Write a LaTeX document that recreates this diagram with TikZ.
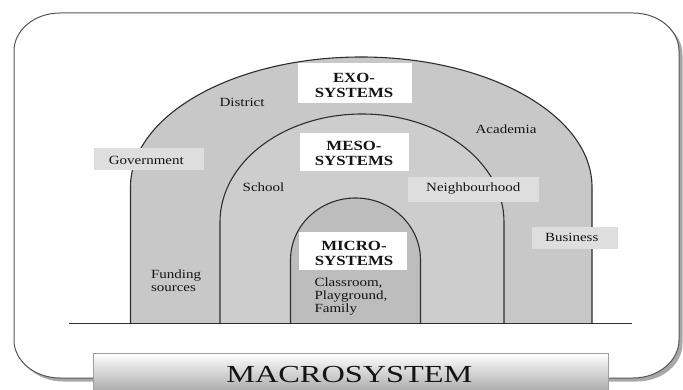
\documentclass[tikz,border=0pt]{standalone}
\usepackage{fontspec}
\setmainfont{Liberation Serif}[FakeStretch=1.2]
\newfontfamily\macrofont{Liberation Serif}[FakeStretch=1.32]
\definecolor{exofill}{HTML}{C8C8C8}
\definecolor{mesofill}{HTML}{CDCDCD}
\definecolor{microfill}{HTML}{BDBDBD}
\definecolor{tagfill}{HTML}{DEDEDE}
\definecolor{ink}{HTML}{141414}
\definecolor{linecol}{HTML}{2E2E2E}
\definecolor{rim}{HTML}{555555}
\definecolor{shadowgray}{HTML}{A8A8A8}
\begin{document}
\begin{tikzpicture}[x=1pt,y=1pt,
  every node/.style={inner sep=0pt, outer sep=0pt, text=ink},
  lbl/.style={font=\fontsize{12.5}{13}\selectfont, anchor=base},
  lbll/.style={lbl, anchor=base west},
  ttl/.style={font=\bfseries\fontsize{14}{15}\selectfont, anchor=base},
  titlebox/.style={rectangle, fill=white},
  tagbox/.style={rectangle, fill=tagfill},
  arch/.style={draw=linecol, line width=1.1pt},
  ground/.style={draw=linecol, line width=1pt},
  barbox/.style={rectangle, top color=white, bottom color=gray!72, draw=gray!75, line width=0.8pt},
]
\useasboundingbox (0,0) rectangle (683,389);

% outer frame with its drop shadow
\fill[shadowgray] (63.5,372.5) -- (636.5,372.5) arc[start angle=90,end angle=0,x radius=46,y radius=38]
  -- (682.5,45.5) arc[start angle=0,end angle=-90,x radius=46,y radius=38]
  -- (63.5,7.5) arc[start angle=270,end angle=180,x radius=46,y radius=38]
  -- (17.5,334.5) arc[start angle=180,end angle=90,x radius=46,y radius=38] -- cycle;
\filldraw[draw=rim, fill=white, line width=1pt] (60,376) -- (633,376) arc[start angle=90,end angle=0,x radius=46,y radius=38]
  -- (679,49) arc[start angle=0,end angle=-90,x radius=46,y radius=38]
  -- (60,11) arc[start angle=270,end angle=180,x radius=46,y radius=38]
  -- (14,338) arc[start angle=180,end angle=90,x radius=46,y radius=38] -- cycle;

% nested arches
\filldraw[arch, fill=exofill] (130.5,66) -- (130.5,202)
  arc[start angle=180,end angle=0,x radius=230.75,y radius=130] -- (592,66);
\filldraw[arch, fill=mesofill] (220,66) -- (220,167)
  arc[start angle=180,end angle=0,x radius=142,y radius=108] -- (504,66);
\filldraw[arch, fill=microfill] (290.5,66) -- (290.5,129)
  arc[start angle=180,end angle=0,x radius=65,y radius=62] -- (420.5,66);

% ground line
\coordinate (gl) at (69,66);
\coordinate (gr) at (632,66);
\draw[ground] (gl) -- (gr);

% grey tags
\node[tagbox, minimum width=110, minimum height=22] (govbox) at (149,230) {};
\node[tagbox, minimum width=131, minimum height=25] (neighbox) at (473.8,199.2) {};
\node[tagbox, minimum width=86, minimum height=22] (busbox) at (574.7,150.7) {};

% white title boxes
\node[titlebox, minimum width=114, minimum height=40] (exobox) at (355,306) {};
\node[titlebox, minimum width=109, minimum height=38] (mesobox) at (354,237.3) {};
\node[titlebox, minimum width=108, minimum height=38] (microbox) at (353,138) {};

% titles
\node[ttl] (exo1) at (354,306.7) {EXO-};
\node[ttl] (exo2) at (354,291.3) {SYSTEMS};
\node[ttl] (meso1) at (354,238.7) {MESO-};
\node[ttl] (meso2) at (354,223) {SYSTEMS};
\node[ttl] (micro1) at (354,138.3) {MICRO-};
\node[ttl] (micro2) at (354,123.3) {SYSTEMS};

% labels
\node[lbl] (district) at (242,282) {District};
\node[lbl] (gov) at (146.3,224.7) {Government};
\node[lbl] (academia) at (506,255) {Academia};
\node[lbl] (school) at (263.5,197) {School};
\node[lbl] (neigh) at (473.3,197) {Neighbourhood};
\node[lbl] (business) at (571.7,147.5) {Business};
\node[lbll] (fund1) at (151,110.5) {Funding};
\node[lbll] (fund2) at (151,97.5) {sources};
\node[lbll] (class1) at (314.5,102.5) {Classroom,};
\node[lbll] (class2) at (314.5,89.5) {Playground,};
\node[lbll] (class3) at (314.5,76.5) {Family};

% macrosystem bar
\node[barbox, minimum width=515.5, minimum height=42, anchor=north west] (macrobar) at (93,36) {};
\node[anchor=base, font=\macrofont\fontsize{24.5}{26}\selectfont] (macro) at (349.4,6.3) {MACROSYSTEM};
\end{tikzpicture}
\end{document}
